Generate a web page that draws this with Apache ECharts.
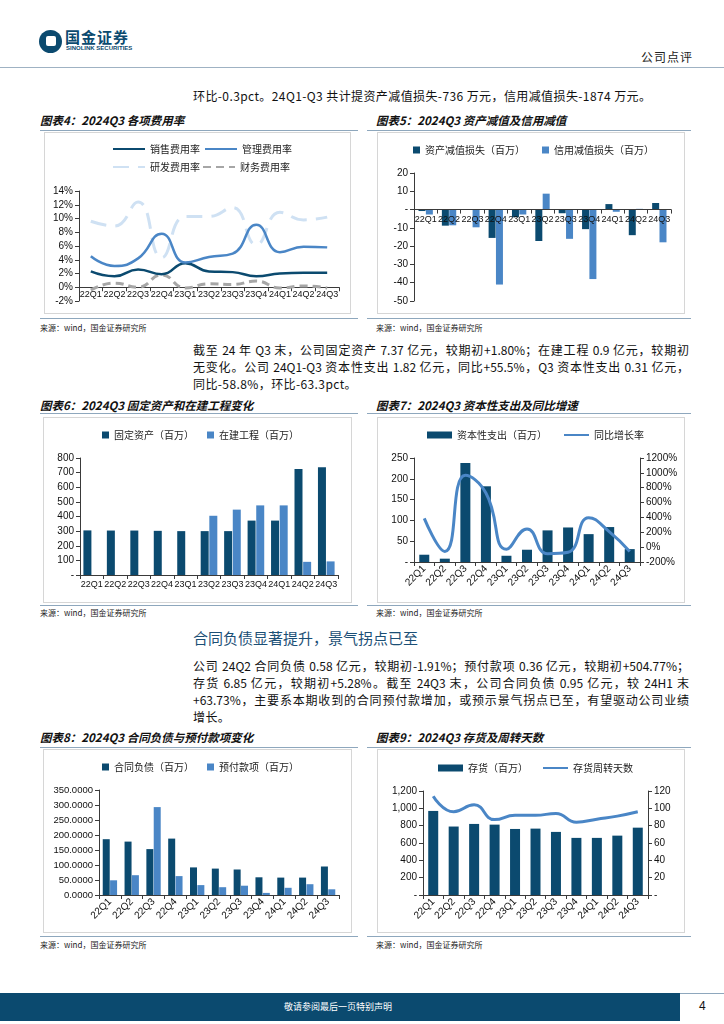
<!DOCTYPE html>
<html><head><meta charset="utf-8">
<script src="https://cdn.jsdelivr.net/npm/echarts@6/dist/echarts.min.js"></script>
<style>
html,body{margin:0;padding:0;background:#fff;}
body{width:724px;height:1024px;position:relative;overflow:hidden;font-family:"Noto Sans CJK SC","Noto Sans",sans-serif;color:#111;}
.a{position:absolute;}
.title{position:absolute;font-size:11.5px;font-weight:bold;font-style:italic;color:#111;white-space:nowrap;line-height:14px;}
.hl{position:absolute;height:0;border-top:1.2px solid #8ea7bd;}
.src{position:absolute;font-size:8px;color:#222;white-space:nowrap;line-height:10px;}
.box{position:absolute;outline:1px solid #d6d6d6;}
.ln{position:absolute;left:193px;width:496px;font-size:12px;line-height:16px;white-space:nowrap;letter-spacing:0.4px;}
.j{text-align:justify;text-align-last:justify;white-space:normal;letter-spacing:0;}
</style></head>
<body>
<!-- header -->
<div class="a" style="left:39px;top:30px;width:23px;height:23px;border-radius:50%;background:#0b4a6f;"></div>
<div class="a" style="left:46px;top:36px;width:10px;height:10px;border-radius:2px;background:#fff;"></div>
<div class="a" style="left:65px;top:29px;font-size:15px;font-weight:bold;color:#0b4a6f;line-height:16px;letter-spacing:1px;">国金证券</div>
<div class="a" style="left:66px;top:45px;font-size:6px;font-weight:bold;color:#0b4a6f;line-height:7px;font-family:'Liberation Sans',Arial,sans-serif;">SINOLINK SECURITIES</div>
<div class="a" style="left:641px;top:50px;font-size:12px;color:#222;line-height:14px;letter-spacing:1px;">公司点评</div>
<div class="hl" style="left:0;top:67px;width:724px;border-top:1.5px solid #9fb2c3;"></div>

<div class="ln" style="top:88px;">环比-0.3pct。24Q1-Q3 共计提资产减值损失-736 万元，信用减值损失-1874 万元。</div>

<!-- row 1 -->
<div class="title" style="left:40px;top:113px;">图表4：2024Q3 各项费用率</div>
<div class="title" style="left:376px;top:113px;">图表5：2024Q3 资产减值及信用减值</div>
<div class="hl" style="left:40px;top:130px;width:318px;"></div>
<div class="hl" style="left:367px;top:130px;width:324px;"></div>
<div id="c4" class="box" style="left:45px;top:133px;width:305px;height:180px;"></div>
<div id="c5" class="box" style="left:378px;top:133px;width:306px;height:180px;"></div>
<div class="hl" style="left:40px;top:318px;width:318px;"></div>
<div class="hl" style="left:367px;top:318px;width:324px;"></div>
<div class="src" style="left:40px;top:323px;">来源：wind，国金证券研究所</div>
<div class="src" style="left:376px;top:323px;">来源：wind，国金证券研究所</div>

<div class="ln j" style="top:342px;">截至 24 年 Q3 末，公司固定资产 7.37 亿元，较期初+1.80%；在建工程 0.9 亿元，较期初</div>
<div class="ln j" style="top:359px;">无变化。公司 24Q1-Q3 资本性支出 1.82 亿元，同比+55.5%，Q3 资本性支出 0.31 亿元，</div>
<div class="ln" style="top:376px;">同比-58.8%，环比-63.3pct。</div>

<!-- row 2 -->
<div class="title" style="left:40px;top:398px;">图表6：2024Q3 固定资产和在建工程变化</div>
<div class="title" style="left:376px;top:398px;">图表7：2024Q3 资本性支出及同比增速</div>
<div class="hl" style="left:40px;top:413px;width:318px;"></div>
<div class="hl" style="left:367px;top:413px;width:324px;"></div>
<div id="c6" class="box" style="left:44px;top:418px;width:307px;height:184px;"></div>
<div id="c7" class="box" style="left:378px;top:418px;width:306px;height:184px;"></div>
<div class="hl" style="left:40px;top:605px;width:318px;"></div>
<div class="hl" style="left:367px;top:605px;width:324px;"></div>
<div class="src" style="left:40px;top:608px;">来源：wind，国金证券研究所</div>
<div class="src" style="left:376px;top:608px;">来源：wind，国金证券研究所</div>

<div class="a" style="left:193px;top:629px;font-size:15px;line-height:18px;color:#1b4f76;white-space:nowrap;">合同负债显著提升，景气拐点已至</div>
<div class="ln j" style="top:658px;">公司 24Q2 合同负债 0.58 亿元，较期初-1.91%；预付款项 0.36 亿元，较期初+504.77%；</div>
<div class="ln j" style="top:675px;">存货 6.85 亿元，较期初+5.28%。截至 24Q3 末，公司合同负债 0.95 亿元，较 24H1 末</div>
<div class="ln j" style="top:692px;">+63.73%，主要系本期收到的合同预付款增加，或预示景气拐点已至，有望驱动公司业绩</div>
<div class="ln" style="top:709px;">增长。</div>

<!-- row 3 -->
<div class="title" style="left:40px;top:730px;">图表8：2024Q3 合同负债与预付款项变化</div>
<div class="title" style="left:376px;top:730px;">图表9：2024Q3 存货及周转天数</div>
<div class="hl" style="left:40px;top:747px;width:318px;"></div>
<div class="hl" style="left:367px;top:747px;width:324px;"></div>
<div id="c8" class="box" style="left:44px;top:750px;width:307px;height:182px;"></div>
<div id="c9" class="box" style="left:378px;top:750px;width:306px;height:182px;"></div>
<div class="hl" style="left:40px;top:936px;width:318px;"></div>
<div class="hl" style="left:367px;top:936px;width:324px;"></div>
<div class="src" style="left:40px;top:940px;">来源：wind，国金证券研究所</div>
<div class="src" style="left:376px;top:940px;">来源：wind，国金证券研究所</div>

<!-- footer -->
<div class="a" style="left:0;top:993px;width:680px;height:28px;background:#0b4a6f;"></div>
<div class="hl" style="left:680px;top:993px;width:44px;border-top:1px solid #8ea7bd;"></div>
<div class="a" style="left:0;top:1001px;width:680px;text-align:center;font-size:9px;line-height:11px;color:#fff;"><span style="position:relative;left:-2px;">敬请参阅最后一页特别声明</span></div>
<div class="a" style="left:699px;top:999px;font-size:12px;line-height:14px;color:#111;font-family:'Liberation Sans',Arial,sans-serif;">4</div>

<script>
// ===== data =====
const quarters = ['22Q1','22Q2','22Q3','22Q4','23Q1','23Q2','23Q3','23Q4','24Q1','24Q2','24Q3'];
// chart 4 (%)
const salesRate = [2.3,1.6,2.6,1.9,3.5,2.3,2.2,1.6,2.0,2.1,2.1];
const mgmtRate  = [4.5,3.1,4.2,7.8,3.6,4.4,4.9,9.1,5.1,5.9,5.8];
const rdRate    = [9.6,8.9,12.4,4.3,10.3,10.3,11.6,6.2,10.9,9.8,10.2];
const finRate   = [-0.4,0.6,0.0,1.8,-0.1,0.5,0.4,0.9,-0.1,0.2,-0.1];
// chart 5 (百万)
const assetImpair  = [-0.8,-8.8,0,-15.5,-4.2,-17.2,-2.0,-10.7,3.0,-14.0,3.6];
const creditImpair = [-2.7,-8.6,-9.7,-41.0,-2.7,8.7,-16.0,-38.0,-1.2,0.4,-17.9];
// chart 6 (百万)
const fixedAssets = [305,304,304,302,300,300,300,372,372,725,737];
const constructionInProgress = [0,0,0,0,0,405,447,476,476,90,93];
// chart 7
const capex    = [17.5,8,238,182,15,29.5,76,83,67,84,31];
const capexYoy = [388,-58,967,730,-27,245,-89,-70,396,210,-58];
// chart 8 (百万)
const contractLiab = [186,178,153,188,92,88,85,59,58,58,95];
const prepayments  = [49,66,293,63,33,26,31,7,24,36,19];
// chart 9
const inventory     = [970,790,820,812,762,766,728,659,659,685,777];
const inventoryDays = [114,96,104,87,92,92,94,84,87.5,91,96];

// ===== styles =====
const DARK = '#0b4a6f', MID = '#4a86c6', LIGHT = '#cfe1f3', GREY = '#a6a6a6';
const AX = '#3a3a3a';
const NUMF = "'Liberation Sans', Arial, sans-serif";
const CJK = "'Noto Sans CJK SC', sans-serif";
const dashZero = v => (v === 0 ? '-' : v);
const pct = v => v + '%';

function lbl(extra) {
  return Object.assign({ interval: 0, color: '#111', fontSize: 9, fontFamily: NUMF, margin: 5, hideOverlap: false }, extra || {});
}
function catAxis(extra) {
  return Object.assign({
    type: 'category', data: quarters,
    axisLine: { show: true, onZero: false, lineStyle: { color: AX, width: 1 } },
    axisTick: { show: true, length: 4, lineStyle: { color: AX } },
    axisLabel: lbl(),
    splitLine: { show: false }
  }, extra || {});
}
function valAxis(min, max, interval, fmt, extra) {
  return Object.assign({
    type: 'value', min: min, max: max, interval: interval,
    axisLine: { show: true, lineStyle: { color: AX, width: 1 } },
    axisTick: { show: true, length: 4, lineStyle: { color: AX } },
    axisLabel: { color: '#111', fontSize: 10, fontFamily: NUMF, formatter: fmt, margin: 6 },
    splitLine: { show: false }
  }, extra || {});
}
function legend(left, top, gap, names, w, h) {
  return {
    left: left, top: top, padding: 0, itemGap: gap, itemWidth: w, itemHeight: h,
    data: names.map(n => typeof n === 'string' ? { name: n, icon: 'rect' } : { name: n.name, itemStyle: { opacity: 0 } }),
    textStyle: { color: '#222', fontSize: 10, fontFamily: CJK }
  };
}
function grid(l, r, t, b) {
  return { left: l, right: r, top: t, bottom: b, containLabel: false, outerBoundsMode: 'none' };
}
function mk(id, opt) {
  const c = echarts.init(document.getElementById(id), null, { renderer: 'canvas' });
  opt.animation = false;
  c.setOption(opt);
  return c;
}
// move the category axis onto the value 0 of the left value axis
function onZero(chart, gridBottom) {
  const h = chart.getHeight();
  const y0 = chart.convertToPixel({ yAxisIndex: 0 }, 0);
  chart.setOption({ xAxis: { offset: y0 - (h - gridBottom) } });
}

// chart 4
const ch4 = mk('c4', {
  grid: grid(34, 11, 58, 12),
  legend: [
    legend(67, 11, 4, [{ name: '销售费用率' }, { name: '管理费用率' }], 32, 8),
    legend(67, 29, 2, [{ name: '研发费用率' }, { name: '财务费用率' }], 32, 8)
  ],
  xAxis: catAxis({ axisLabel: lbl({ margin: 3 }) }),
  yAxis: valAxis(-2, 14, 2, pct),
  series: [
    { name: '研发费用率', type: 'line', data: rdRate, smooth: true, symbol: 'none', lineStyle: { color: LIGHT, width: 3, type: [16, 9] }, itemStyle: { color: LIGHT } },
    { name: '财务费用率', type: 'line', data: finRate, smooth: true, symbol: 'none', lineStyle: { color: GREY, width: 3, type: [8, 5] }, itemStyle: { color: GREY } },
    { name: '销售费用率', type: 'line', data: salesRate, smooth: true, symbol: 'none', lineStyle: { color: DARK, width: 2.5 }, itemStyle: { color: DARK } },
    { name: '管理费用率', type: 'line', data: mgmtRate, smooth: true, symbol: 'none', lineStyle: { color: MID, width: 2.5 }, itemStyle: { color: MID } }
  ]
});
onZero(ch4, 12);

// chart 5
const ch5 = mk('c5', {
  grid: grid(36, 13, 40, 12),
  legend: legend(35, 12, 17, ['资产减值损失（百万）', '信用减值损失（百万）'], 7, 7),
  xAxis: catAxis({ z: 5 }),
  yAxis: valAxis(-50, 20, 10, dashZero),
  series: [
    { name: '资产减值损失（百万）', type: 'bar', data: assetImpair, barWidth: 7, barGap: '5%', itemStyle: { color: DARK } },
    { name: '信用减值损失（百万）', type: 'bar', data: creditImpair, barWidth: 7, itemStyle: { color: MID } }
  ]
});
onZero(ch5, 12);

// chart 6
mk('c6', {
  grid: grid(36, 13, 40, 27),
  legend: legend(58, 12, 13, ['固定资产（百万）', '在建工程（百万）'], 7, 7),
  xAxis: catAxis(),
  yAxis: valAxis(0, 800, 100, dashZero),
  series: [
    { name: '固定资产（百万）', type: 'bar', data: fixedAssets, barWidth: 8, barGap: '8%', itemStyle: { color: DARK } },
    { name: '在建工程（百万）', type: 'bar', data: constructionInProgress, barWidth: 8, itemStyle: { color: MID } }
  ]
});

// chart 7
mk('c7', {
  grid: grid(36, 44, 40, 40),
  legend: legend(49, 12, 16, ['资本性支出（百万）', { name: '同比增长率' }], 25, 7),
  xAxis: catAxis({ axisLabel: lbl({ rotate: 45, fontSize: 10 }) }),
  yAxis: [
    valAxis(0, 250, 50, dashZero),
    valAxis(-200, 1200, 200, pct, { position: 'right' })
  ],
  series: [
    { name: '资本性支出（百万）', type: 'bar', data: capex, barWidth: 10, itemStyle: { color: DARK } },
    { name: '同比增长率', type: 'line', yAxisIndex: 1, data: capexYoy, smooth: true, symbol: 'none', lineStyle: { color: MID, width: 3 }, itemStyle: { color: MID } }
  ]
});

// chart 8
mk('c8', {
  grid: grid(55, 12, 40, 37),
  legend: legend(58, 12, 13, ['合同负债（百万）', '预付款项（百万）'], 7, 7),
  xAxis: catAxis({ axisLabel: lbl({ rotate: 45, fontSize: 10 }) }),
  yAxis: valAxis(0, 350, 50, null, { axisLabel: { color: '#111', fontSize: 9.5, fontFamily: NUMF, formatter: v => v.toFixed(4), margin: 6 } }),
  series: [
    { name: '合同负债（百万）', type: 'bar', data: contractLiab, barWidth: 7, barGap: '5%', itemStyle: { color: DARK } },
    { name: '预付款项（百万）', type: 'bar', data: prepayments, barWidth: 7, itemStyle: { color: MID } }
  ]
});

// chart 9
mk('c9', {
  grid: grid(45, 36, 41, 37),
  legend: legend(60, 13, 14, ['存货（百万）', { name: '存货周转天数' }], 25, 7),
  xAxis: catAxis({ axisLabel: lbl({ rotate: 45, fontSize: 10 }) }),
  yAxis: [
    valAxis(0, 1200, 200, v => (v === 0 ? '-' : v.toLocaleString('en-US'))),
    valAxis(0, 120, 20, dashZero, { position: 'right' })
  ],
  series: [
    { name: '存货（百万）', type: 'bar', data: inventory, barWidth: 10, itemStyle: { color: DARK } },
    { name: '存货周转天数', type: 'line', yAxisIndex: 1, data: inventoryDays, smooth: true, symbol: 'none', lineStyle: { color: MID, width: 3 }, itemStyle: { color: MID } }
  ]
});
</script>
</body></html>
